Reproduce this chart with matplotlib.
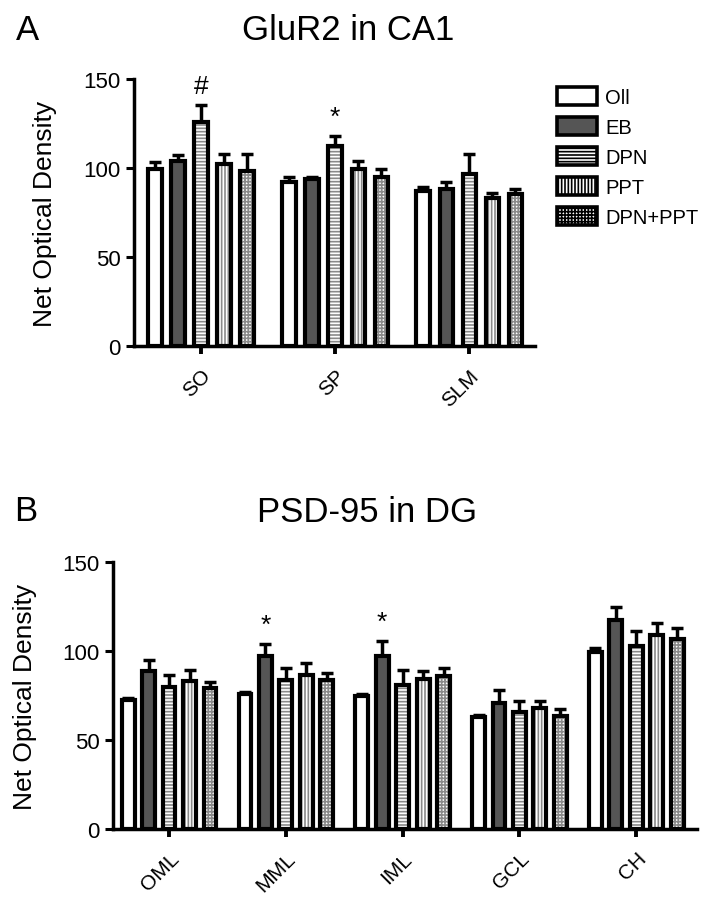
import numpy as np
import matplotlib
matplotlib.use('Agg')
import matplotlib.pyplot as plt
from matplotlib.patches import Patch

plt.rcParams['font.family'] = ['Liberation Sans', 'DejaVu Sans']
plt.rcParams['hatch.linewidth'] = 1.2

treatments = ['Oll', 'EB', 'DPN', 'PPT', 'DPN+PPT']
fills = ['white', '#555555', 'white', 'white', 'white']
hatches = [None, None, '-----', '|||||', '+++++']

# Panel A: GluR2 in CA1
regions_a = ['SO', 'SP', 'SLM']
mean_a = {
    'Oll':     [99.5, 92.0, 87.3],
    'EB':      [103.7, 94.0, 88.2],
    'DPN':     [125.7, 112.5, 96.6],
    'PPT':     [102.2, 99.3, 83.1],
    'DPN+PPT': [98.5, 95.0, 85.4],
}
sem_a = {
    'Oll':     [4.0, 3.0, 2.0],
    'EB':      [3.5, 1.0, 3.8],
    'DPN':     [9.7, 5.3, 11.3],
    'PPT':     [5.8, 4.5, 2.9],
    'DPN+PPT': [9.5, 4.3, 2.8],
}
marks_a = [(0, 'DPN', '#'), (1, 'DPN', '*')]

# Panel B: PSD-95 in DG
regions_b = ['OML', 'MML', 'IML', 'GCL', 'CH']
mean_b = {
    'Oll':     [72.7, 75.8, 74.9, 63.0, 99.7],
    'EB':      [88.6, 97.0, 97.0, 70.8, 117.6],
    'DPN':     [80.0, 83.7, 81.0, 65.5, 103.0],
    'PPT':     [83.3, 86.7, 84.3, 67.7, 109.0],
    'DPN+PPT': [79.0, 83.9, 86.2, 63.7, 106.7],
}
sem_b = {
    'Oll':     [1.0, 1.0, 1.0, 1.0, 2.0],
    'EB':      [6.5, 7.0, 8.8, 7.5, 7.4],
    'DPN':     [6.5, 7.0, 8.5, 6.5, 8.0],
    'PPT':     [6.2, 6.6, 4.3, 4.3, 6.7],
    'DPN+PPT': [3.7, 3.7, 4.5, 3.7, 6.2],
}
marks_b = [(1, 'EB', '*'), (2, 'EB', '*')]

fig = plt.figure(figsize=(7.11, 9.03), dpi=100)
W, H = 711, 903


def draw_panel(rect, regions, means, sems, marks, step, width):
    ax = fig.add_axes(rect)
    x = np.arange(len(regions))
    for i, t in enumerate(treatments):
        xs = x + (i - 2) * step
        if hatches[i]:
            ax.bar(xs, means[t], width, color=fills[i], edgecolor='#8a8a8a',
                   hatch=hatches[i], linewidth=0, zorder=2)
            ax.bar(xs, means[t], width, fill=False, edgecolor='black', linewidth=3, zorder=3)
        else:
            ax.bar(xs, means[t], width, color=fills[i], edgecolor='black', linewidth=3, zorder=3)
        ax.errorbar(xs, means[t], yerr=[np.zeros(len(regions)), sems[t]], fmt='none',
                    ecolor='black', elinewidth=2.5, capsize=4, capthick=2.5, zorder=1)
    for gi, t, s in marks:
        i = treatments.index(t)
        y = means[t][gi] + sems[t][gi] + 4
        ax.text(gi + (i - 2) * step, y, s, ha='center', va='bottom', fontsize=19)
    ax.set_ylim(0, 150)
    ax.set_yticks([0, 50, 100, 150])
    ax.set_xticks(x)
    ax.set_xticklabels(regions, rotation=45, ha='right', rotation_mode='anchor', fontsize=15)
    ax.tick_params(axis='y', labelsize=16, width=2.2, length=6, direction='out')
    ax.tick_params(axis='x', width=2.8, length=6, direction='out', pad=8)
    for s in ['top', 'right']:
        ax.spines[s].set_visible(False)
    for s in ['left', 'bottom']:
        ax.spines[s].set_linewidth(2.5)
    ax.spines['left'].set_bounds(0, 150)
    ax.set_ylabel('Net Optical Density', fontsize=19)
    return ax


axA = draw_panel([134 / W, (H - 347) / H, 401 / W, 267 / H], regions_a, mean_a, sem_a,
                 marks_a, 0.172, 0.1)
axA.set_xlim(-0.5, 2.49)
axA.yaxis.set_label_coords(-(134 - 45) / 401, 0.5)
axA.yaxis.label.set_va('center')

axB = draw_panel([113 / W, (H - 830) / H, 584 / W, 267 / H], regions_b, mean_b, sem_b,
                 marks_b, 0.175, 0.11)
axB.set_xlim(-0.48, 4.52)
axB.yaxis.set_label_coords(-(113 - 25) / 584, 0.5)
axB.yaxis.label.set_va('center')

fig.text(348 / W, 1 - 31 / H, 'GluR2 in CA1', ha='center', va='center', fontsize=25)
fig.text(367 / W, 1 - 513 / H, 'PSD-95 in DG', ha='center', va='center', fontsize=25)
fig.text(28 / W, 1 - 30 / H, 'A', ha='center', va='center', fontsize=25)
fig.text(26 / W, 1 - 512 / H, 'B', ha='center', va='center', fontsize=25)

handles = [Patch(facecolor=fills[i], edgecolor='black', hatch=hatches[i], linewidth=2.6)
           for i in range(len(treatments))]
fig.legend(handles, treatments, loc='upper left', bbox_to_anchor=(557 / W, 1 - 88 / H),
           frameon=False, fontsize=14.5, handlelength=2.0, handleheight=1.0,
           labelspacing=0.5, handletextpad=0.4, borderpad=0, borderaxespad=0)

fig.savefig('out.png', dpi=100)
